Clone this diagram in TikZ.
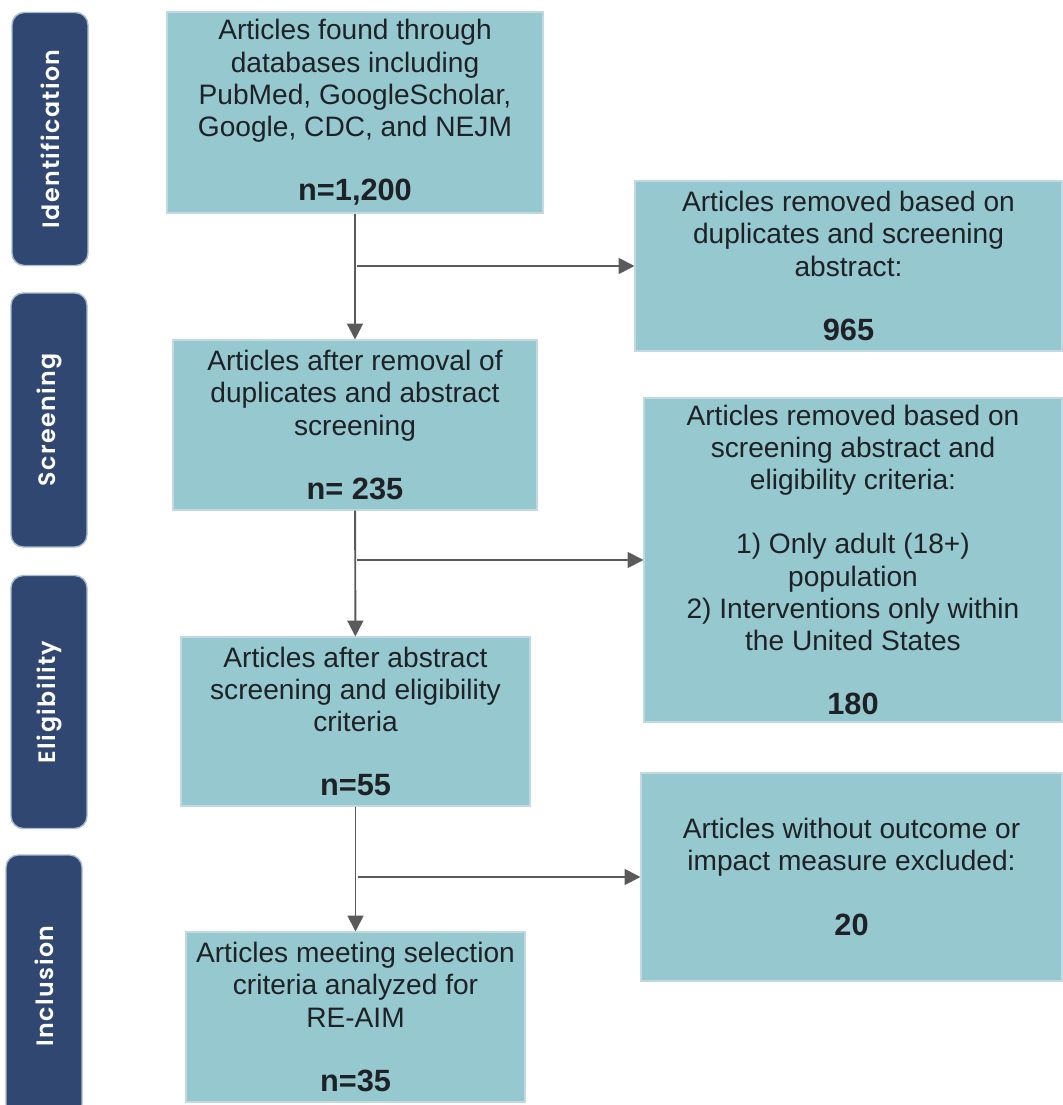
\documentclass[tikz,border=0pt]{standalone}
\usepackage{fontspec}
\setmainfont{Liberation Sans}
\newfontfamily\phasefont[LetterSpace=6, UprightFont={* SemiBold}]{Poppins}
\usepackage{tikz}
\usetikzlibrary{arrows.meta,positioning,calc}
\definecolor{ink}{HTML}{1E2226}
\definecolor{teal}{HTML}{96C8CF}
\definecolor{tealedge}{HTML}{C3D9E1}
\definecolor{navy}{HTML}{2F4771}
\definecolor{navyedge}{HTML}{A7BCD3}
\definecolor{wire}{HTML}{5A5A5A}
\newcommand{\cnt}[1]{{\bfseries\fontsize{17.5pt}{18.3pt}\selectfont #1}}

\begin{document}
\begin{tikzpicture}[
  x=0.02cm, y=-0.02cm,
  font=\fontsize{16pt}{18.3pt}\selectfont,
  box/.style={rectangle, draw=tealedge, fill=teal, line width=0.6pt, align=center, text=ink, inner sep=2pt},
  phase/.style={rounded corners=7pt, draw=navyedge, fill=navy, line width=0.8pt, text=white, rotate=90,
    font=\phasefont\fontsize{13.5pt}{16pt}\selectfont, minimum height=76*0.02cm, inner sep=0pt},
  arrow/.style={-{Triangle[length=9pt,width=9pt]}, draw=wire, line width=1.1pt}
]
\useasboundingbox (0,0) rectangle (1062,1105);
% phase labels
\node[phase, minimum width=253*0.02cm] (pid) at (50,139) {Identification};
\node[phase, minimum width=254*0.02cm] (pscr) at (49,420) {Screening};
\node[phase, minimum width=253*0.02cm] (pel) at (49,702) {Eligibility};
\node[phase, minimum width=262*0.02cm] (pinc) at (44,986) {Inclusion};
% main column
\node[box, minimum width=376*0.02cm, minimum height=201*0.02cm] (found) at (355,112.5)
  {Articles found through\\databases including\\PubMed, GoogleScholar,\\Google, CDC, and NEJM\\[18.3pt]\cnt{n=1,200}};
\node[box, minimum width=364*0.02cm, minimum height=170*0.02cm] (dedup) at (355,425)
  {Articles after removal of\\duplicates and abstract\\screening\\[18.3pt]\cnt{n= 235}};
\node[box, minimum width=349*0.02cm, minimum height=169*0.02cm] (elig) at (355.5,721.5)
  {Articles after abstract\\screening and eligibility\\criteria\\[18.3pt]\cnt{n=55}};
\node[box, minimum width=339*0.02cm, minimum height=170*0.02cm] (incl) at (355.5,1017)
  {Articles meeting selection\\criteria analyzed for\\RE-AIM\\[18.3pt]\cnt{n=35}};
% removed column
\node[box, minimum width=427*0.02cm, minimum height=170*0.02cm] (rem1) at (848.5,266)
  {Articles removed based on\\duplicates and screening\\abstract:\\[18.3pt]\cnt{965}};
\node[box, minimum width=418*0.02cm, minimum height=324*0.02cm] (rem2) at (853,560)
  {Articles removed based on\\screening abstract and\\eligibility criteria:\\[18.3pt]1) Only adult (18+)\\population\\2) Interventions only within\\the United States\\[18.3pt]\cnt{180}};
\node[box, minimum width=421*0.02cm, minimum height=208*0.02cm] (rem3) at (851.5,877)
  {Articles without outcome or\\impact measure excluded:\\[18.3pt]\cnt{20}};
% connectors
\draw[arrow] (found) -- (dedup);
\draw[arrow] (dedup) -- (elig);
\draw[arrow] (elig) -- (incl);
\draw[arrow] ($(found.south |- rem1.west)+(2,0)$) -- (rem1.west);
\draw[arrow] ($(dedup.south |- rem2.west)+(2,0)$) -- (rem2.west);
\draw[arrow] ($(elig.south |- rem3.west)+(2,0)$) -- (rem3.west);
\end{tikzpicture}
\end{document}
